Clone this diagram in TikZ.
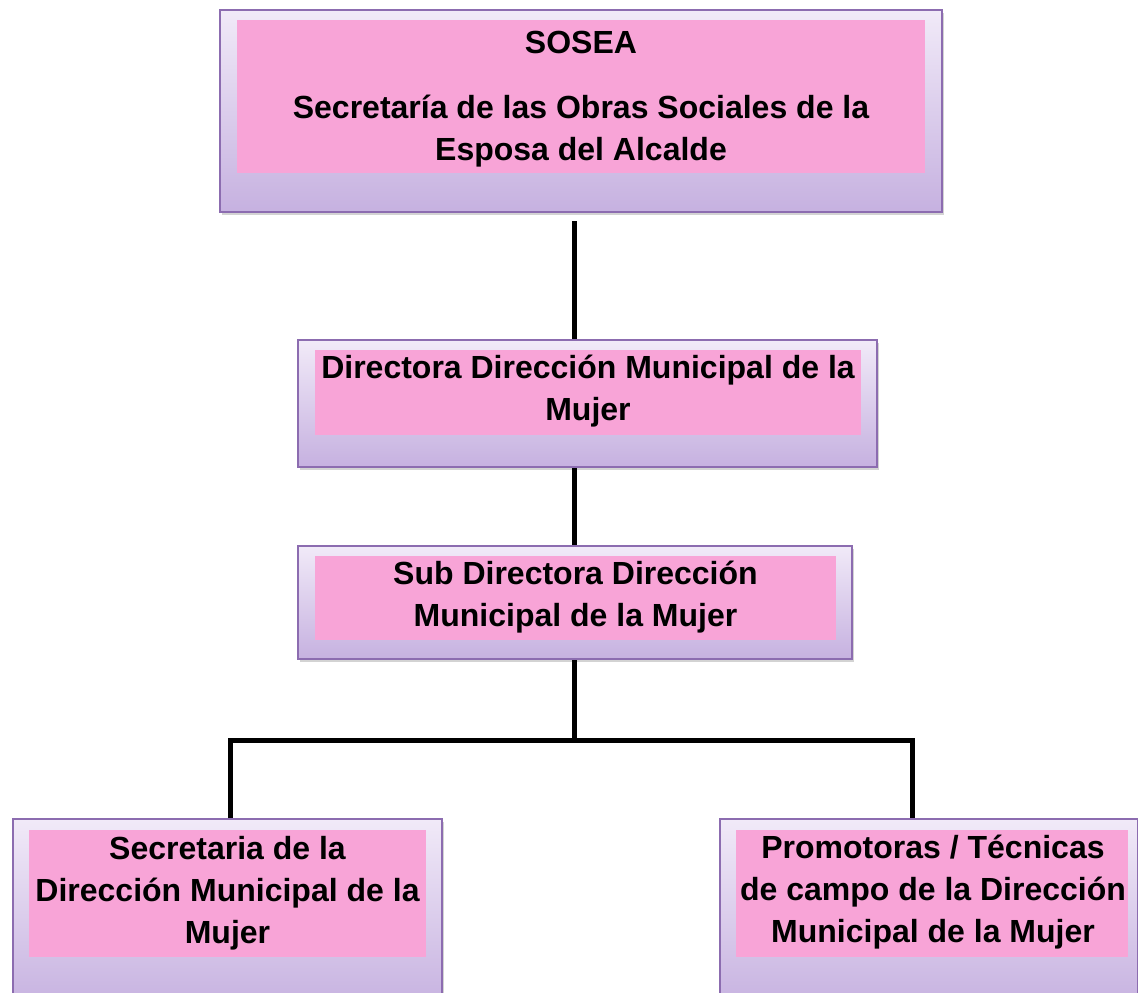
\documentclass[tikz,border=0pt]{standalone}
\usepackage{fontspec}
\setmainfont{Liberation Sans}
\usetikzlibrary{shadows}
\definecolor{boxtop}{HTML}{F1EAF8}
\definecolor{boxbot}{HTML}{C6B1E0}
\definecolor{boxline}{HTML}{8C6CB0}
\definecolor{pinkfill}{HTML}{F8A4D7}
\tikzset{
  outerbox/.style={draw=boxline, line width=2pt, top color=boxtop, bottom color=boxbot,
    inner sep=0pt, drop shadow={shadow xshift=2pt, shadow yshift=-3pt, opacity=0.35}},
  pinkbox/.style={fill=pinkfill, inner sep=0pt},
  label/.style={font=\bfseries\fontsize{32}{42}\selectfont, align=center, inner sep=0pt},
  conn/.style={line width=5pt, black}
}
\begin{document}
\begin{tikzpicture}[x=1pt,y=-1pt]
\useasboundingbox (0,0) rectangle (1138,993);
\clip (0,0) rectangle (1138,993);
% top box
\node[outerbox, minimum width=722pt, minimum height=202pt] (b1) at (581,111) {};
\node[pinkbox, minimum width=688pt, minimum height=153pt] (b1i) at (581,96.5) {};
\node[label] (b1a) at (581,42) {SOSEA};
\node[label] (b1t) at (581,131) {Secretaría de las Obras Sociales de la\\Esposa del Alcalde};
% directora
\node[outerbox, minimum width=579pt, minimum height=127pt] (b2) at (587.5,403.5) {};
\node[pinkbox, minimum width=546pt, minimum height=85pt] (b2i) at (588,392.5) {};
\node[label] (b2t) at (588,391.5) {Directora Dirección Municipal de la\\Mujer};
% sub directora
\node[outerbox, minimum width=554pt, minimum height=113pt] (b3) at (575,602.5) {};
\node[pinkbox, minimum width=521pt, minimum height=84pt] (b3i) at (575.5,598) {};
\node[label] (b3t) at (575.5,597.5) {Sub Directora Dirección\\Municipal de la Mujer};
% secretaria
\node[outerbox, minimum width=429pt, minimum height=190pt] (b4) at (227.5,914) {};
\node[pinkbox, minimum width=397pt, minimum height=127pt] (b4i) at (227.5,893.5) {};
\node[label] (b4t) at (227.5,893) {Secretaria de la\\Dirección Municipal de la\\Mujer};
% promotoras
\node[outerbox, minimum width=418pt, minimum height=190pt] (b5) at (929,914) {};
\node[pinkbox, minimum width=392pt, minimum height=127pt] (b5i) at (932,893.5) {};
\node[label] (b5t) at (933,892) {Promotoras / Técnicas\\de campo de la Dirección\\Municipal de la Mujer};
% connectors
\coordinate (j) at (574,740);
\coordinate (l) at (230,740);
\coordinate (r) at (912,740);
\draw[conn] ([yshift=-8pt]b1.south -| j) -- (b2.north -| j);
\draw[conn] (b2.south -| j) -- (b3.north -| j);
\draw[conn] (b3.south -| j) -- (j);
\draw[conn] (b4.north -| l) -- (l) -- (r) -- (b5.north -| r);
\end{tikzpicture}
\end{document}
